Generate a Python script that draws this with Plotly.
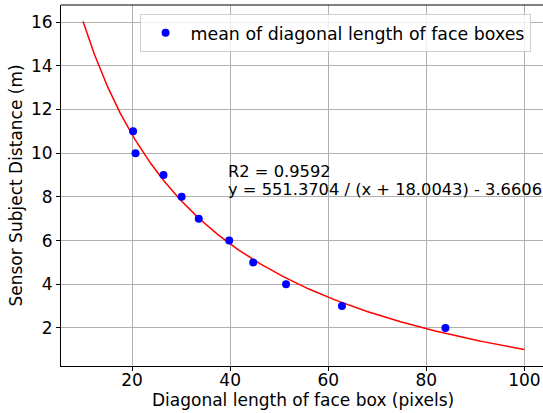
import numpy as np
import plotly.graph_objects as go

# Measured points (mean diagonal length of face boxes vs distance)
diag_px = [20.2, 20.7, 26.4, 30.1, 33.6, 39.8, 44.7, 51.4, 62.8, 83.9]
distance_m = [11, 10, 9, 8, 7, 6, 5, 4, 3, 2]

# Fit parameters shown in the chart: y = a / (x + b) - c
fit_a = 551.3704
fit_b = 18.0043
fit_c = 3.6606
fit_r2 = 0.9592
fit_x_min, fit_x_max = 10, 100

x_ticks = [20, 40, 60, 80, 100]
y_ticks = [2, 4, 6, 8, 10, 12, 14, 16]

xf = np.linspace(fit_x_min, fit_x_max, 300)
yf = fit_a / (xf + fit_b) - fit_c

FONT = "DejaVu Sans"
FS = 17
FS_NOTE = 16.3

fig = go.Figure()
fig.add_trace(go.Scatter(x=xf, y=yf, mode="lines", line=dict(color="red", width=1.5),
                         showlegend=False, hoverinfo="skip"))
fig.add_trace(go.Scatter(x=diag_px, y=distance_m, mode="markers",
                         marker=dict(color="blue", size=8),
                         name="mean of diagonal length of face boxes"))

fig.add_annotation(x=40, y=8, xref="x", yref="y", xanchor="left", yanchor="middle",
                   align="left", showarrow=False, xshift=-4, yshift=25,
                   text=f"R2 = {fit_r2}",
                   font=dict(family=FONT, size=FS_NOTE, color="black"))
fig.add_annotation(x=40, y=8, xref="x", yref="y", xanchor="left", yanchor="middle",
                   align="left", showarrow=False, xshift=-4, yshift=7,
                   text=f"y = {fit_a} / (x + {fit_b}) - {fit_c}",
                   font=dict(family=FONT, size=FS_NOTE, color="black"))

# x-axis title
fig.add_annotation(x=0.502, y=-0.094, xref="paper", yref="paper", xanchor="center",
                   yanchor="middle", showarrow=False,
                   text="Diagonal length of face box (pixels)",
                   font=dict(family=FONT, size=FS, color="black"))

fig.add_shape(type="line", xref="paper", yref="paper", x0=0, x1=1, y0=1, y1=1,
              line=dict(color="black", width=1))

axis_common = dict(showgrid=True, gridcolor="#b0b0b0", gridwidth=1,
                   showline=True, linecolor="black", linewidth=1, automargin=False,
                   ticks="outside", ticklen=4, tickcolor="black", zeroline=False,
                   tickfont=dict(family=FONT, size=FS, color="black"))

fig.update_xaxes(range=[5.5, 103.8], tickvals=x_ticks, ticklabelstandoff=-5,
                 **axis_common)
fig.update_yaxes(range=[0.26, 16.78], tickvals=y_ticks,
                 title=dict(text="Sensor Subject Distance (m)",
                            font=dict(family=FONT, size=FS, color="black"), standoff=4),
                 **axis_common)

fig.update_layout(width=543, height=413, autosize=False,
                  margin=dict(l=61, r=0, t=5, b=47, autoexpand=False),
                  plot_bgcolor="white", paper_bgcolor="white",
                  font=dict(family=FONT, size=FS, color="black"),
                  legend=dict(x=0.163, y=0.975, xanchor="left", yanchor="top",
                              itemwidth=40,
                              bgcolor="rgba(255,255,255,0.8)", bordercolor="#d0d0d0",
                              borderwidth=1, font=dict(family=FONT, size=17.4)))

fig.write_html("out.html", config={"displayModeBar": False},
               post_script="document.body.style.margin='0';document.body.style.overflow='hidden';")
